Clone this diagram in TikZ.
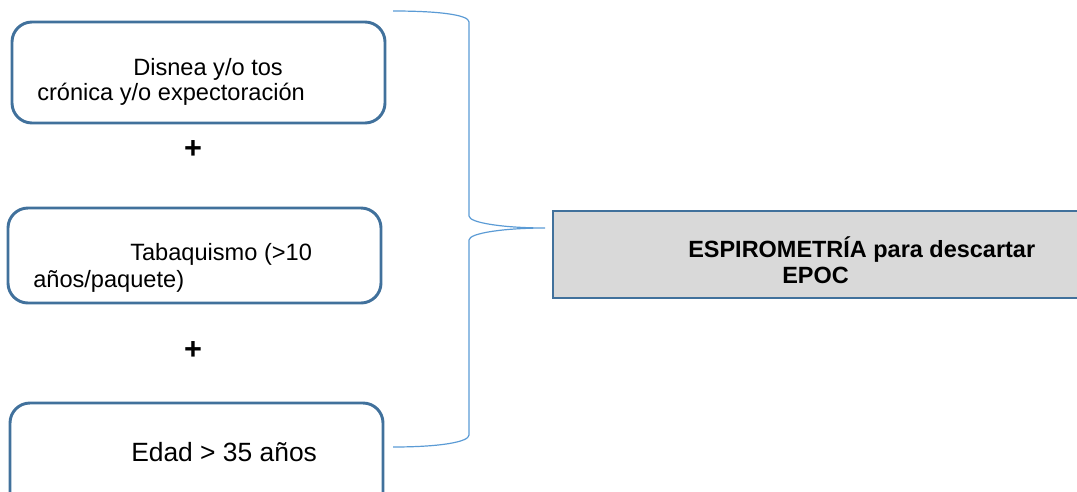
\documentclass[tikz,border=0pt]{standalone}
\usepackage{fontspec}
\setmainfont{Liberation Sans}
\usetikzlibrary{fit}
\definecolor{boxblue}{HTML}{41719C}
\definecolor{braceblue}{HTML}{5B9BD5}
\definecolor{boxgray}{HTML}{D9D9D9}
\begin{document}
\begin{tikzpicture}[x=0.75pt,y=-0.75pt,
  inbox/.style={draw=boxblue,line width=2.2pt,rounded corners=15pt,inner sep=0pt},
  resbox/.style={draw=boxblue,fill=boxgray,line width=2.2pt,inner sep=0pt},
  txt/.style={anchor=base west,inner sep=0pt,font=\fontsize{17.7pt}{20pt}\selectfont},
  btxt/.style={txt,font=\fontsize{17.6pt}{20pt}\selectfont\bfseries},
  plus/.style={anchor=center,inner sep=0pt,font=\fontsize{23pt}{26pt}\selectfont\bfseries},
  brace/.style={draw=braceblue,line width=0.9pt}]
\useasboundingbox (0,0) rectangle (1077,492);
\clip (0,0) rectangle (1077,492);
\node[inbox,fit={(12,22)(385,123)}] (b1) {};
\node[inbox,fit={(8,208)(381,303)}] (b2) {};
\node[inbox,fit={(10,403)(383,520)}] (b3) {};
\node[resbox,fit={(553,211)(1090,298)}] (res) {};
\node[txt] (t1a) at (133,75) {Disnea y/o tos};
\node[txt] (t1b) at (37,100) {crónica y/o expectoración};
\node[txt] (t2a) at (130,260) {Tabaquismo (>10};
\node[txt] (t2b) at (33,287) {años/paquete)};
\node[txt,font=\fontsize{19.8pt}{22pt}\selectfont] (t3) at (131,461) {Edad > 35 años};
\node[plus] (p1) at (193,150) {+};
\node[plus] (p2) at (193,351) {+};
\node[btxt] (r1) at (688,257) {ESPIROMETRÍA para descartar};
\node[btxt] (r2) at (782,283) {EPOC};
\coordinate (btop) at (393,11);
\coordinate (bbot) at (393,447);
\coordinate (btip) at (545,228);
\draw[brace] (btop) .. controls (440,11) and (469,15) .. (469,22) -- (469,216)
  .. controls (469,223) and (505,228) .. (btip)
  .. controls (505,228) and (469,233) .. (469,240) -- (469,435)
  .. controls (469,442) and (440,447) .. (bbot);
\end{tikzpicture}
\end{document}
